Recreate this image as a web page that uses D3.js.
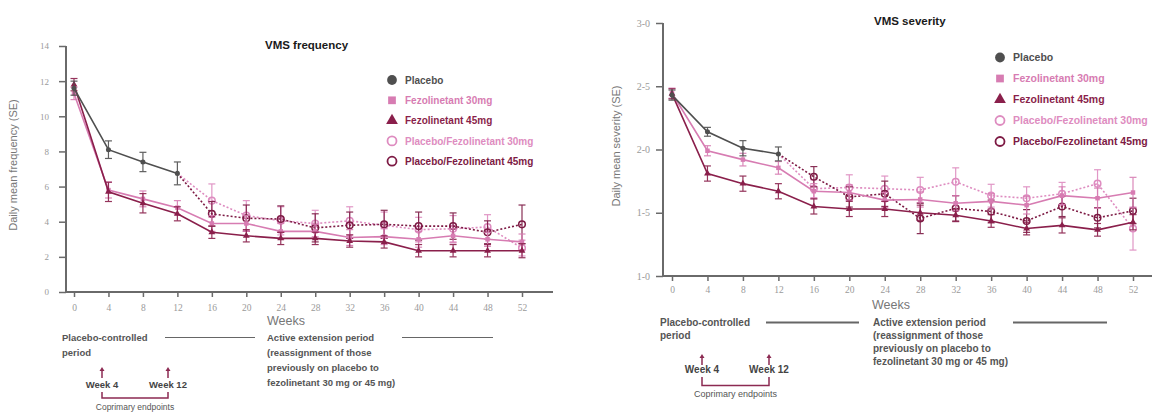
<!DOCTYPE html>
<html>
<head>
<meta charset="utf-8">
<script src="https://cdn.jsdelivr.net/npm/d3@7"></script>
<style>
  body { margin: 0; background: #fff; }
  svg text { font-family: "Liberation Sans", Arial, sans-serif; }
</style>
</head>
<body>
<div id="chart"></div>
<script>
// weeks on the x axis
var weeks = [0, 4, 8, 12, 16, 20, 24, 28, 32, 36, 40, 44, 48, 52];
var placeboWeeks = [0, 4, 8, 12];
var extWeeks = [12, 16, 20, 24, 28, 32, 36, 40, 44, 48, 52];

// VMS frequency
var freqPlacebo = [11.6, 8.1, 7.4, 6.75];
var freqPlaceboSE = [0.4, 0.5, 0.55, 0.65];
var freqFez30 = [11.3, 5.8, 5.3, 4.8, 3.9, 3.9, 3.45, 3.45, 3.1, 3.15, 3.0, 3.2, 3.0, 2.85];
var freqFez30SE = [0.35, 0.45, 0.45, 0.4, 0.45, 0.45, 0.45, 0.4, 0.45, 0.45, 0.45, 0.4, 0.4, 0.45];
var freqFez45 = [11.8, 5.7, 5.05, 4.45, 3.4, 3.2, 3.05, 3.05, 2.9, 2.85, 2.35, 2.35, 2.35, 2.35];
var freqFez45SE = [0.35, 0.55, 0.55, 0.4, 0.35, 0.35, 0.35, 0.35, 0.35, 0.35, 0.35, 0.35, 0.35, 0.4];
var freqPlFez30 = [6.75, 5.2, 4.35, 4.05, 3.9, 4.05, 3.8, 3.55, 3.6, 3.7, 2.5];
var freqPlFez30SE = [0, 0.95, 0.85, 0.8, 0.75, 0.8, 0.75, 0.7, 0.75, 0.7, 0.45];
var freqPlFez45 = [6.75, 4.45, 4.2, 4.15, 3.65, 3.8, 3.85, 3.75, 3.75, 3.4, 3.85];
var freqPlFez45SE = [0, 0.7, 0.75, 0.75, 0.8, 0.75, 0.8, 0.8, 0.75, 0.65, 1.1];

// VMS severity
var sevPlacebo = [2.43, 2.14, 2.01, 1.965];
var sevPlaceboSE = [0.04, 0.035, 0.06, 0.055];
var sevFez30 = [2.445, 1.99, 1.92, 1.855, 1.67, 1.66, 1.6, 1.605, 1.575, 1.59, 1.56, 1.635, 1.615, 1.66];
var sevFez30SE = [0.04, 0.04, 0.05, 0.05, 0.06, 0.06, 0.06, 0.06, 0.06, 0.06, 0.07, 0.07, 0.08, 0.12];
var sevFez45 = [2.44, 1.81, 1.73, 1.67, 1.55, 1.53, 1.53, 1.5, 1.48, 1.435, 1.375, 1.4, 1.365, 1.425];
var sevFez45SE = [0.04, 0.06, 0.06, 0.06, 0.06, 0.06, 0.06, 0.06, 0.05, 0.05, 0.05, 0.06, 0.05, 0.06];
var sevPlFez30 = [1.965, 1.69, 1.7, 1.69, 1.68, 1.745, 1.635, 1.615, 1.65, 1.73, 1.375];
var sevPlFez30SE = [0, 0.07, 0.1, 0.1, 0.1, 0.11, 0.09, 0.09, 0.09, 0.11, 0.17];
var sevPlFez45 = [1.965, 1.785, 1.625, 1.65, 1.455, 1.535, 1.51, 1.435, 1.55, 1.46, 1.515];
var sevPlFez45SE = [0, 0.08, 0.08, 0.1, 0.12, 0.1, 0.09, 0.09, 0.08, 0.08, 0.1];

var legendNames = ["Placebo", "Fezolinetant 30mg", "Fezolinetant 45mg",
                   "Placebo/Fezolinetant 30mg", "Placebo/Fezolinetant 45mg"];
var freqTicks = [0, 2, 4, 6, 8, 10, 12, 14];
var sevTicks = [1, 1.5, 2, 2.5, 3];

var col = {
  placebo: "#4f4f4f",
  fez30: "#d77cb2",
  fez45: "#8a1f4b",
  pl30: "#de8cc0",
  pl45: "#7d1a44",
  axis: "#6a6a6a",
  arrow: "#8c2a52"
};

var svg = d3.select("#chart").append("svg")
  .attr("width", 1156).attr("height", 412);

function zip(xs, ys, se) {
  return xs.map(function(w, i) { return {w: w, v: ys[i], se: se[i]}; });
}

function drawPanel(p) {
  var g = svg.append("g");
  var x = d3.scaleLinear().domain([0, 52]).range(p.xr);
  var y = d3.scaleLinear().domain(p.yd).range(p.yr);

  // y axis
  var yAxis = d3.axisLeft(y).tickValues(p.yticks).tickSize(7).tickSizeOuter(0)
    .tickFormat(p.yfmt);
  var ya = g.append("g").attr("transform", "translate(" + p.axX + ",0)").call(yAxis);
  ya.select(".domain").remove();
  ya.selectAll("line").attr("stroke", col.axis).attr("stroke-width", 1.5);
  ya.selectAll("text").attr("fill", "#9a9a9a").style("font-family", "'Liberation Serif', serif")
    .style("font-size", p.ytfs).attr("x", p.ylabOff);

  // x axis
  var xAxis = d3.axisBottom(x).tickValues(weeks).tickSize(5).tickSizeOuter(0);
  var xa = g.append("g").attr("transform", "translate(0," + p.axY + ")").call(xAxis);
  xa.select(".domain").remove();
  xa.selectAll("line").attr("stroke", col.axis).attr("stroke-width", 1.5);
  xa.selectAll("text").attr("fill", "#9a9a9a").style("font-family", "'Liberation Serif', serif")
    .style("font-size", "9.5px").attr("y", p.xlabDy);

  g.append("line").attr("x1", p.axX).attr("x2", p.axX).attr("y1", p.yr[1]).attr("y2", p.axY + 1)
    .attr("stroke", col.axis).attr("stroke-width", 2);
  g.append("line").attr("x1", p.axX).attr("x2", p.axEnd).attr("y1", p.axY).attr("y2", p.axY)
    .attr("stroke", col.axis).attr("stroke-width", 2);

  // titles
  g.append("text").attr("x", p.titleX).attr("y", p.titleY).text(p.title)
    .attr("font-size", "11.5px").attr("font-weight", "bold").attr("fill", "#1a1a1a");
  g.append("text").attr("transform", "translate(" + p.ylabX + "," + p.ylabY + ") rotate(-90)")
    .attr("text-anchor", "middle").attr("font-size", "11px").attr("fill", "#777").text(p.ylab);
  g.append("text").attr("x", p.weeksX).attr("y", p.weeksY).attr("text-anchor", "middle")
    .attr("font-size", "12.5px").attr("fill", "#777").text("Weeks");

  var line = d3.line().x(function(d) { return x(d.w); }).y(function(d) { return y(d.v); });

  var series = [
    {d: zip(extWeeks, p.pl30, p.pl30se), c: col.pl30, dash: "2,2", sym: "open"},
    {d: zip(extWeeks, p.pl45, p.pl45se), c: col.pl45, dash: "2,2", sym: "open"},
    {d: zip(weeks, p.f30, p.f30se), c: col.fez30, dash: null, sym: d3.symbolSquare},
    {d: zip(weeks, p.f45, p.f45se), c: col.fez45, dash: null, sym: d3.symbolTriangle},
    {d: zip(placeboWeeks, p.pl, p.plse), c: col.placebo, dash: null, sym: d3.symbolCircle}
  ];

  series.forEach(function(s) {
    var pts = s.sym === "open" ? s.d.slice(1) : s.d;
    // error bars
    var eb = g.append("g").attr("stroke", s.c).attr("stroke-width", 1.2).attr("opacity", 0.9);
    pts.forEach(function(d) {
      var cx = x(d.w), y0 = y(d.v - d.se), y1 = y(d.v + d.se);
      eb.append("line").attr("x1", cx).attr("x2", cx).attr("y1", y0).attr("y2", y1);
      eb.append("line").attr("x1", cx - 3.5).attr("x2", cx + 3.5).attr("y1", y0).attr("y2", y0);
      eb.append("line").attr("x1", cx - 3.5).attr("x2", cx + 3.5).attr("y1", y1).attr("y2", y1);
    });
    g.append("path").datum(s.d).attr("d", line).attr("fill", "none")
      .attr("stroke", s.c).attr("stroke-width", 1.6)
      .attr("stroke-dasharray", s.dash);
    pts.forEach(function(d) {
      if (s.sym === "open") {
        g.append("circle").attr("cx", x(d.w)).attr("cy", y(d.v)).attr("r", 3.3)
          .attr("fill", "none").attr("stroke", s.c).attr("stroke-width", 1.5);
      } else {
        g.append("path").attr("d", d3.symbol().type(s.sym).size(20)())
          .attr("transform", "translate(" + x(d.w) + "," + y(d.v) + ")").attr("fill", s.c);
      }
    });
  });

  // legend
  var legCols = [col.placebo, col.fez30, col.fez45, col.pl30, col.pl45];
  var legSym = [d3.symbolCircle, d3.symbolSquare, d3.symbolTriangle, "open", "open"];
  legendNames.forEach(function(n, i) {
    var ly = p.legY + i * p.legStep;
    if (legSym[i] === "open") {
      g.append("circle").attr("cx", p.legX).attr("cy", ly).attr("r", 4.5)
        .attr("fill", "none").attr("stroke", legCols[i]).attr("stroke-width", 1.8);
    } else {
      g.append("path").attr("d", d3.symbol().type(legSym[i]).size(legSym[i] === d3.symbolCircle ? 75 : 60)())
        .attr("transform", "translate(" + p.legX + "," + ly + ")").attr("fill", legCols[i]);
    }
    g.append("text").attr("x", p.legX + 13).attr("y", ly + 3.8).text(n)
      .attr("font-size", p.legFs).attr("font-weight", "bold").attr("fill", legCols[i]);
  });

  // period annotations
  var a = p.ann;
  var txt = g.append("g").attr("font-size", a.fs + "px").attr("fill", "#555").attr("font-weight", "bold");
  txt.append("text").attr("x", a.pcX).attr("y", a.rowY).text("Placebo-controlled");
  txt.append("text").attr("x", a.pcX).attr("y", a.rowY + a.lh).text("period");
  ["Active extension period", "(reassignment of those", "previously on placebo to",
   "fezolinetant 30 mg or 45 mg)"].forEach(function(t, i) {
    txt.append("text").attr("x", a.aeX).attr("y", a.rowY + i * a.lh).text(t);
  });
  a.lines.forEach(function(l) {
    g.append("line").attr("x1", l[0]).attr("x2", l[1]).attr("y1", a.rowY - 3.5).attr("y2", a.rowY - 3.5)
      .attr("stroke", "#666").attr("stroke-width", a.lw);
  });
  [a.w4, a.w12].forEach(function(ax, i) {
    g.append("line").attr("x1", ax).attr("x2", ax).attr("y1", a.arTop + 3).attr("y2", a.arBot)
      .attr("stroke", col.arrow).attr("stroke-width", 1.5);
    g.append("path").attr("d", "M" + (ax - 2.5) + "," + (a.arTop + 4) + "L" + ax + "," + a.arTop +
      "L" + (ax + 2.5) + "," + (a.arTop + 4) + "Z").attr("fill", col.arrow);
    g.append("text").attr("x", ax).attr("y", a.wkY).attr("text-anchor", "middle")
      .attr("font-size", a.fs + "px").attr("font-weight", "bold").attr("fill", "#444")
      .text(i === 0 ? "Week 4" : "Week 12");
  });
  g.append("path").attr("d", "M" + a.w4 + "," + a.brTop + "V" + a.brBot + "H" + a.w12 + "V" + a.brTop)
    .attr("fill", "none").attr("stroke", col.arrow).attr("stroke-width", 1.5);
  g.append("text").attr("x", (a.w4 + a.w12) / 2).attr("y", a.copY).attr("text-anchor", "middle")
    .attr("font-size", (a.fs - 1) + "px").attr("fill", "#555").text("Coprimary endpoints");
}

drawPanel({
  xr: [74, 522], yd: [0, 14], yr: [292, 46], axX: 66, axY: 292, axEnd: 553,
  yticks: freqTicks, yfmt: d3.format("d"), xlabDy: 12, ylabOff: -17, ytfs: "9px",
  title: "VMS frequency", titleX: 265, titleY: 49,
  ylab: "Daily mean frequency (SE)", ylabX: 17, ylabY: 165,
  weeksX: 286, weeksY: 325,
  pl: freqPlacebo, plse: freqPlaceboSE, f30: freqFez30, f30se: freqFez30SE,
  f45: freqFez45, f45se: freqFez45SE, pl30: freqPlFez30, pl30se: freqPlFez30SE,
  pl45: freqPlFez45, pl45se: freqPlFez45SE,
  legX: 392, legY: 80, legStep: 20.3, legFs: "10px",
  ann: {fs: 9.5, pcX: 62, aeX: 267, rowY: 341, lh: 15, lines: [[165, 255], [402, 493]], lw: 1.2,
        w4: 102, w12: 168, arTop: 367, arBot: 378, wkY: 388, brTop: 392, brBot: 398, copY: 410}
});

drawPanel({
  xr: [672, 1133], yd: [1, 3], yr: [276, 23], axX: 663, axY: 276, axEnd: 1152,
  yticks: sevTicks, yfmt: function(v) { return d3.format(".1f")(v).replace(".", "-"); },
  xlabDy: 10, ylabOff: -13, ytfs: "10px",
  title: "VMS severity", titleX: 874, titleY: 25,
  ylab: "Daily mean severity (SE)", ylabX: 620, ylabY: 146,
  weeksX: 891, weeksY: 309,
  pl: sevPlacebo, plse: sevPlaceboSE, f30: sevFez30, f30se: sevFez30SE,
  f45: sevFez45, f45se: sevFez45SE, pl30: sevPlFez30, pl30se: sevPlFez30SE,
  pl45: sevPlFez45, pl45se: sevPlFez45SE,
  legX: 1000, legY: 57.5, legStep: 21, legFs: "10.5px",
  ann: {fs: 10, pcX: 660, aeX: 873, rowY: 326, lh: 13, lines: [[766, 859], [1013, 1107]], lw: 2,
        w4: 702, w12: 769, arTop: 354, arBot: 365, wkY: 373, brTop: 377, brBot: 385.5, copY: 397}
});
</script>
</body>
</html>
